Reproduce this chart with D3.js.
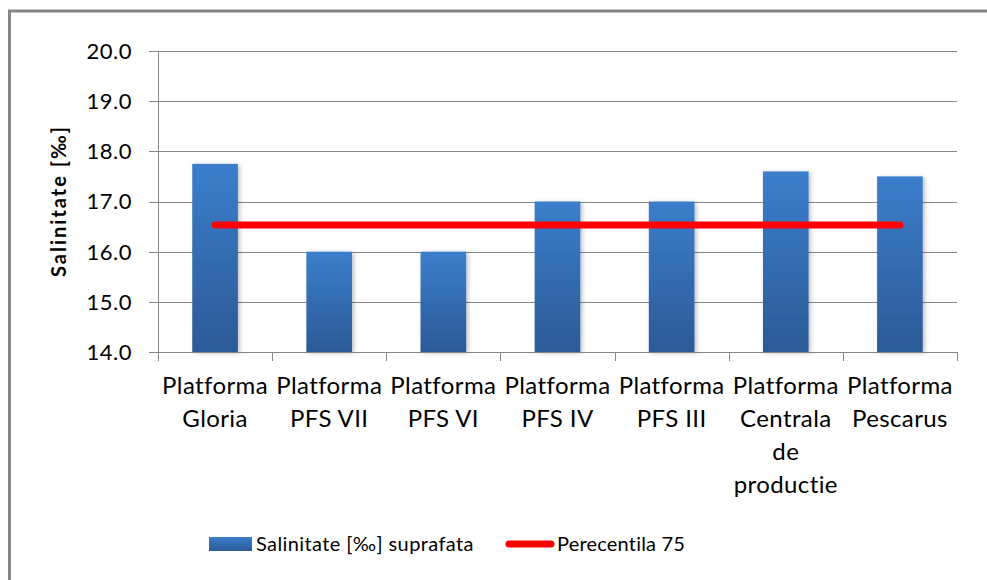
<!DOCTYPE html>
<html>
<head>
<meta charset="utf-8">
<script src="https://cdn.jsdelivr.net/npm/d3@7"></script>
<style>
  body { margin: 0; background: #fff; }
  text { font-family: Lato, "Open Sans", sans-serif; fill: #000; }
</style>
</head>
<body>
<script>
// categories (each entry is one label line)
var categories = [
    ["Platforma", "Gloria"],
    ["Platforma", "PFS VII"],
    ["Platforma", "PFS VI"],
    ["Platforma", "PFS IV"],
    ["Platforma", "PFS III"],
    ["Platforma", "Centrala", "de", "productie"],
    ["Platforma", "Pescarus"]
];
var salinity = [17.75, 16.0, 16.0, 17.0, 17.0, 17.6, 17.5];
var percentile75 = [16.53, 16.53, 16.53, 16.53, 16.53, 16.53, 16.53];
var yTicks = [14, 15, 16, 17, 18, 19, 20];
var seriesNames = ["Salinitate [‰] suprafata", "Perecentila 75"];
var yTitle = "Salinitate [‰]";

window.onload = setChart();

function setChart(){
    var width = 987, height = 580;
    var left = 158, right = 957, top = 51, bottom = 352;

    var svg = d3.select("body").append("svg")
        .attr("width", width)
        .attr("height", height);

    var defs = svg.append("defs");
    var grad = defs.append("linearGradient")
        .attr("id", "barGrad")
        .attr("x1", 0).attr("y1", 0).attr("x2", 0).attr("y2", 1);
    grad.append("stop").attr("offset", "0%").attr("stop-color", "#3b7ecc");
    grad.append("stop").attr("offset", "100%").attr("stop-color", "#2c5a97");

    var shadow = defs.append("filter").attr("id", "shadow")
        .attr("x", "-20%").attr("y", "-10%").attr("width", "150%").attr("height", "130%");
    shadow.append("feDropShadow")
        .attr("dx", 2).attr("dy", 1).attr("stdDeviation", 2)
        .attr("flood-color", "#000").attr("flood-opacity", 0.25);

    //outer chart frame
    svg.append("rect")
        .attr("x", 9.5).attr("y", 11)
        .attr("width", 1000).attr("height", 600)
        .attr("fill", "none")
        .attr("stroke", "#868686")
        .attr("stroke-width", 3);

    var x = d3.scaleBand()
        .domain(d3.range(categories.length))
        .range([left, right])
        .paddingInner(0.6)
        .paddingOuter(0.3);

    var xOuter = d3.scaleBand()
        .domain(d3.range(categories.length))
        .range([left, right]);

    var y = d3.scaleLinear()
        .domain([14, 20])
        .range([bottom, top]);

    //horizontal gridlines
    svg.append("g").selectAll("line")
        .data(yTicks)
        .enter().append("line")
        .attr("x1", left - 9).attr("x2", right)
        .attr("y1", function(d){ return Math.round(y(d)) + 0.5; })
        .attr("y2", function(d){ return Math.round(y(d)) + 0.5; })
        .attr("stroke", "#868686")
        .attr("stroke-width", 1);

    //y tick labels
    svg.append("g").selectAll("text")
        .data(yTicks)
        .enter().append("text")
        .attr("x", 132)
        .attr("y", function(d){ return y(d); })
        .attr("dy", "0.36em")
        .attr("text-anchor", "end")
        .style("font-size", "22px")
        .style("letter-spacing", "0.5px")
        .text(function(d){ return d3.format(".1f")(d); });

    //bars
    svg.append("g").selectAll("rect")
        .data(salinity)
        .enter().append("rect")
        .attr("x", function(d, i){ return x(i); })
        .attr("width", x.bandwidth())
        .attr("y", function(d){ return y(d); })
        .attr("height", function(d){ return y(14) - y(d); })
        .attr("fill", "url(#barGrad)")
        .attr("filter", "url(#shadow)");

    //axes lines
    svg.append("line")
        .attr("x1", left + 0.5).attr("x2", left + 0.5)
        .attr("y1", top).attr("y2", bottom)
        .attr("stroke", "#868686");
    svg.append("line")
        .attr("x1", left).attr("x2", right)
        .attr("y1", Math.round(y(14)) + 0.5).attr("y2", Math.round(y(14)) + 0.5)
        .attr("stroke", "#868686");
    svg.append("g").selectAll("line")
        .data(d3.range(categories.length + 1))
        .enter().append("line")
        .attr("x1", function(i){ return Math.round(left + i * xOuter.step()) + 0.5; })
        .attr("x2", function(i){ return Math.round(left + i * xOuter.step()) + 0.5; })
        .attr("y1", bottom).attr("y2", bottom + 9)
        .attr("stroke", "#868686");

    //percentile line
    var line = d3.line()
        .x(function(d, i){ return xOuter(i) + xOuter.bandwidth() / 2; })
        .y(function(d){ return y(d); });
    svg.append("path")
        .datum(percentile75)
        .attr("d", line)
        .attr("fill", "none")
        .attr("stroke", "#ff0000")
        .attr("stroke-width", 7)
        .attr("stroke-linecap", "round");

    //category labels
    var labels = svg.append("g").selectAll("text")
        .data(categories)
        .enter().append("text")
        .attr("text-anchor", "middle")
        .style("font-size", "24px")
        .style("letter-spacing", "0.4px")
        .attr("transform", function(d, i){
            return "translate(" + (xOuter(i) + xOuter.bandwidth() / 2) + ",394)";
        });
    labels.selectAll("tspan")
        .data(function(d){ return d; })
        .enter().append("tspan")
        .attr("x", 0)
        .attr("y", function(d, i){ return i * 33; })
        .text(function(d){ return d; });

    //y axis title
    svg.append("text")
        .attr("transform", "translate(66,201) rotate(-90)")
        .attr("text-anchor", "middle")
        .style("font-size", "20px")
        .style("font-weight", "bold")
        .style("letter-spacing", "2px")
        .text(yTitle);

    //legend
    var legend = svg.append("g");
    legend.append("rect")
        .attr("x", 209).attr("y", 537)
        .attr("width", 43).attr("height", 14)
        .attr("fill", "url(#barGrad)");
    legend.append("text")
        .attr("x", 256).attr("y", 544).attr("dy", "0.36em")
        .style("font-size", "20px")
        .style("letter-spacing", "0.4px")
        .text(seriesNames[0]);
    legend.append("line")
        .attr("x1", 509).attr("x2", 551)
        .attr("y1", 544).attr("y2", 544)
        .attr("stroke", "#ff0000")
        .attr("stroke-width", 7)
        .attr("stroke-linecap", "round");
    legend.append("text")
        .attr("x", 557).attr("y", 544).attr("dy", "0.36em")
        .style("font-size", "20px")
        .style("letter-spacing", "0.2px")
        .text(seriesNames[1]);
}
</script>
</body>
</html>
